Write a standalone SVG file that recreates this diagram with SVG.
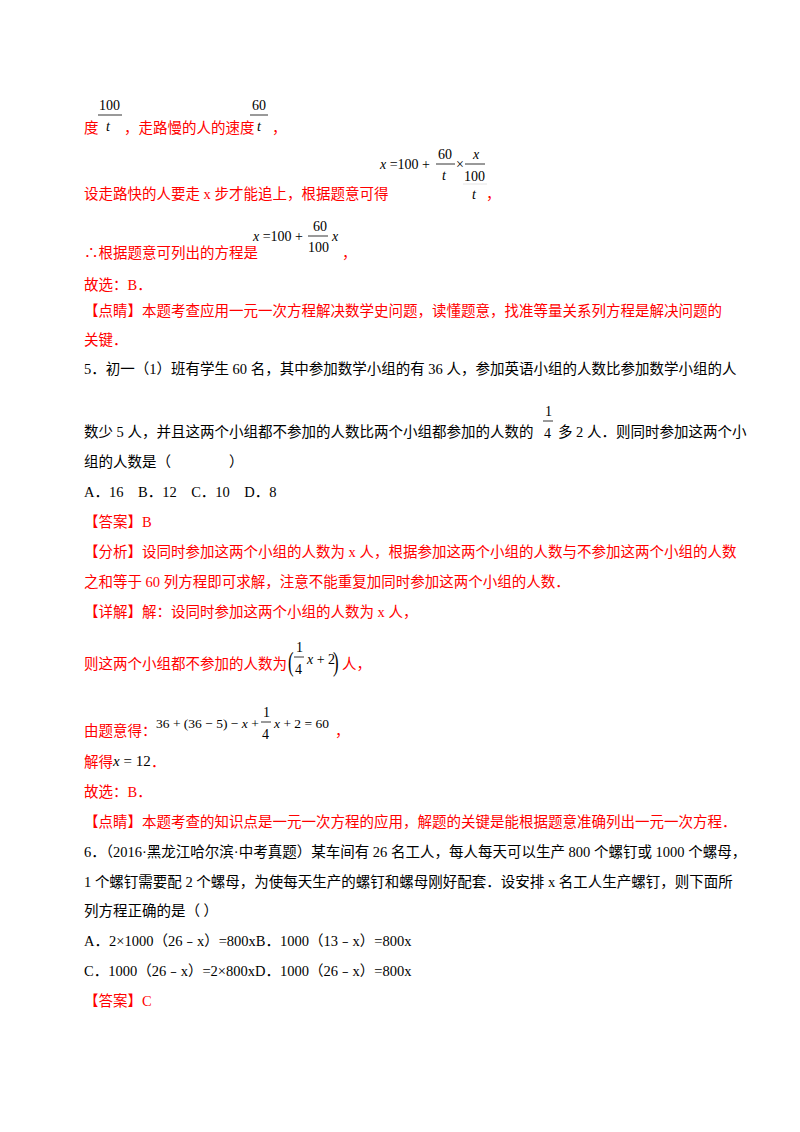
<svg xmlns="http://www.w3.org/2000/svg" width="800" height="1132" viewBox="0 0 800 1132">
<style>
.t{font-family:"Liberation Serif","Noto Sans CJK SC",serif;font-size:14.5px;fill:#000}
.r{fill:#ff0000}
.m{font-family:"Liberation Serif",serif;font-size:14px;fill:#000}
.i{font-style:italic}
.l{stroke:#000;stroke-width:0.8}
</style>
<rect width="800" height="1132" fill="#fff"/>
<g class="t r">
<text x="84" y="133">度</text>
<text x="124" y="133">，走路慢的人的速度</text>
<text x="272" y="133">，</text>
<text x="84" y="199">设走路快的人要走 x 步才能追上，根据题意可得</text>
<text x="486" y="199">，</text>
<text x="84" y="258">∴根据题意可列出的方程是</text>
<text x="342" y="258">，</text>
<text x="84" y="290">故选：B．</text>
<text x="84" y="316">【点睛】本题考查应用一元一次方程解决数学史问题，读懂题意，找准等量关系列方程是解决问题的</text>
<text x="84" y="345">关键．</text>
</g>
<g class="m">
<text x="99" y="110">100</text><line class="l" x1="98" y1="115" x2="122" y2="115"/><text x="106" y="131" class="i">t</text>
<text x="252" y="110">60</text><line class="l" x1="250" y1="115" x2="268" y2="115"/><text x="257" y="131" class="i">t</text>
<text x="380" y="169"><tspan class="i">x</tspan> =100 +</text>
<text x="438" y="159">60</text><line class="l" x1="436" y1="164" x2="455" y2="164"/><text x="442" y="180" class="i">t</text>
<text x="456" y="169">×</text>
<text x="473" y="159" class="i">x</text><line class="l" x1="465" y1="164" x2="485" y2="164"/><text x="464" y="181">100</text>
<line x1="463" y1="184" x2="487" y2="184" stroke="#ddd" stroke-width="0.8"/><text x="472" y="199" class="i">t</text>
<text x="253" y="241"><tspan class="i">x</tspan> =100 +</text>
<text x="313" y="231">60</text><line class="l" x1="308" y1="236" x2="328" y2="236"/><text x="308" y="252">100</text>
<text x="332" y="241" class="i">x</text>
</g>
<g class="t">
<text x="84" y="374">5．初一（1）班有学生 60 名，其中参加数学小组的有 36 人，参加英语小组的人数比参加数学小组的人</text>
<text x="84" y="437">数少 5 人，并且这两个小组都不参加的人数比两个小组都参加的人数的</text>
<text x="558" y="437">多 2 人．则同时参加这两个小</text>
<text x="84" y="467">组的人数是（　　　　）</text>
<text x="84" y="497">A．16　B．12　C．10　D．8</text>
</g>
<g class="m"><text x="545" y="416">1</text><line class="l" x1="543" y1="421" x2="553" y2="421"/><text x="544" y="438">4</text></g>
<g class="t r">
<text x="84" y="527">【答案】B</text>
<text x="84" y="557">【分析】设同时参加这两个小组的人数为 x 人，根据参加这两个小组的人数与不参加这两个小组的人数</text>
<text x="84" y="587">之和等于 60 列方程即可求解，注意不能重复加同时参加这两个小组的人数．</text>
<text x="84" y="617">【详解】解：设同时参加这两个小组的人数为 x 人，</text>
<text x="84" y="669">则这两个小组都不参加的人数为</text>
<text x="342" y="669">人，</text>
<text x="84" y="736">由题意得：</text>
<text x="335" y="736">，</text>
<text x="84" y="767">解得</text>
<text x="151" y="767">．</text>
<text x="84" y="797">故选：B．</text>
<text x="84" y="827">【点睛】本题考查的知识点是一元一次方程的应用，解题的关键是能根据题意准确列出一元一次方程．</text>
</g>
<g class="m">
<text x="288" y="671" font-size="28" font-weight="100" transform="translate(288 671) scale(0.6 1) translate(-288 -671)">(</text>
<text x="296" y="652">1</text><line class="l" x1="294" y1="657" x2="304" y2="657"/><text x="295" y="674">4</text>
<text x="307" y="664"><tspan class="i">x</tspan> + 2</text>
<text x="333" y="671" font-size="28" transform="translate(333 671) scale(0.6 1) translate(-333 -671)">)</text>
<text x="156" y="728" font-size="13.5">36 + (36 − 5) − <tspan class="i">x</tspan> +</text>
<text x="263" y="717">1</text><line class="l" x1="261" y1="722" x2="271" y2="722"/><text x="262" y="739">4</text>
<text x="274" y="728" font-size="13.5"><tspan class="i">x</tspan> + 2 = 60</text>
<text x="113" y="766" font-size="15"><tspan class="i">x</tspan> = 12</text>
</g>
<g class="t">
<text x="84" y="857">6．（2016·黑龙江哈尔滨·中考真题）某车间有 26 名工人，每人每天可以生产 800 个螺钉或 1000 个螺母，</text>
<text x="84" y="887">1 个螺钉需要配 2 个螺母，为使每天生产的螺钉和螺母刚好配套．设安排 x 名工人生产螺钉，则下面所</text>
<text x="84" y="916">列方程正确的是（ ）</text>
<text x="84" y="946">A．2×1000（26﹣x）=800xB．1000（13﹣x）=800x</text>
<text x="84" y="976">C．1000（26﹣x）=2×800xD．1000（26﹣x）=800x</text>
</g>
<g class="t r"><text x="84" y="1006">【答案】C</text></g>
</svg>
